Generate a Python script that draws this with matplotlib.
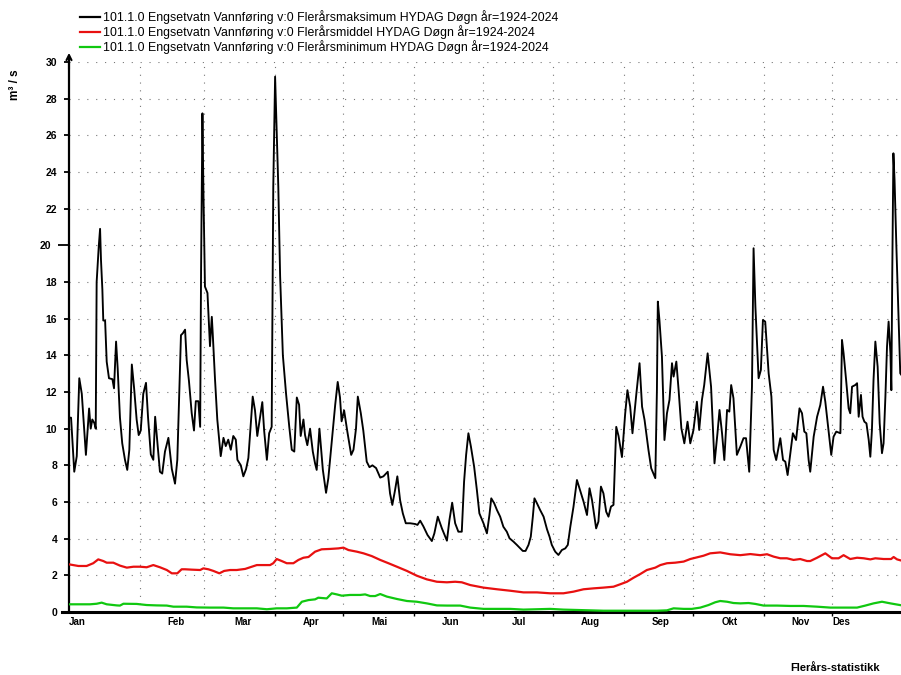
import matplotlib
matplotlib.use("Agg")
import matplotlib.pyplot as plt
from matplotlib.lines import Line2D

plt.rcParams["font.family"] = ["Liberation Sans", "DejaVu Sans"]

# --- data (day of year from 1 Jan, m3/s) ---------------------------------
max_days = [
    0, 0.9, 2.3, 3.4, 4.5, 5.6, 7.4, 8.8, 9.5, 10.2, 11.1, 11.7, 12.1, 13.0,
    13.6, 14.0, 14.6, 15.0, 15.8, 16.5, 17.5, 19.0, 19.7, 20.6, 21.3, 22.3,
    23.3, 24.5, 25.5, 26.4, 27.5, 28.5, 29.6, 30.5, 31.4, 32.5, 33.7, 34.6,
    35.8, 36.9, 37.7, 38.7, 39.8, 40.8, 42.0, 43.5, 45.0, 46.4, 47.4, 49.0,
    49.8, 50.8, 51.5, 52.5, 53.7, 54.7, 55.5, 56.6, 57.4, 57.8, 58.4, 58.8,
    59.5, 60.6, 61.7, 62.5, 62.9, 63.9, 64.9, 66.4, 67.6, 68.6, 69.7, 70.8,
    71.9, 73.0, 73.7, 75.2, 76.3, 77.5, 78.5, 79.6, 80.4, 81.4, 82.4, 83.6,
    84.6, 85.4, 86.6, 87.6, 88.7, 89.4, 90.2, 90.9, 91.6, 92.4, 93.6, 95.0,
    96.4, 97.5, 98.6, 99.7, 100.7, 101.4, 102.6, 103.3, 104.3, 105.5, 106.7,
    107.7, 108.4, 109.6, 111.1, 112.5, 113.5, 115.0, 116.5, 117.6, 118.6,
    119.3, 120.4, 121.8, 123.5, 124.5, 125.6, 126.4, 127.7, 128.8, 130.3,
    131.5, 132.8, 134.4, 136.2, 137.6, 139.5, 140.5, 141.5, 142.7, 143.7,
    144.9, 146.1, 147.4, 149.3, 151.5, 152.5, 153.7, 155.1, 156.9, 158.8,
    159.9, 161.4, 163.2, 165.4, 166.5, 167.7, 169.0, 170.4, 171.9, 172.9,
    173.8, 174.8, 175.9, 177.3, 178.5, 179.6, 181.4, 182.9, 184.0, 184.8,
    186.1, 187.3, 188.7, 190.1, 191.6, 192.8, 194.5, 196.0, 197.5, 198.6,
    199.8, 201.1, 202.1, 203.0, 203.7, 204.8, 206.2, 207.7, 209.2, 210.3,
    211.3, 212.8, 214.2, 215.7, 217.2, 218.3, 219.4, 220.8, 222.3, 223.4,
    225.2, 226.7, 227.8, 228.9, 230.7, 231.7, 232.8, 233.9, 235.1, 236.1,
    237.2, 238.3, 239.5, 240.5, 242.0, 243.4, 244.4, 245.6, 246.6, 248.3,
    249.7, 250.8, 251.9, 253.6, 254.8, 256.6, 257.3, 257.7, 258.4, 259.5,
    260.6, 261.7, 262.8, 263.9, 264.6, 265.8, 266.8, 268.0, 269.3, 270.7,
    271.9, 273.3, 274.8, 275.8, 277.0, 278.0, 279.5, 281.0, 282.5, 283.8,
    284.7, 285.8, 286.8, 288.0, 289.0, 289.8, 290.8, 292.3, 293.8, 295.2,
    296.3, 297.7, 298.9, 299.6, 300.4, 301.8, 302.8, 303.7, 304.7, 306.2,
    307.4, 308.4, 309.5, 311.3, 312.5, 313.5, 314.5, 315.7, 316.8, 318.2,
    319.7, 320.8, 321.8, 322.7, 323.7, 324.4, 325.9, 327.4, 328.8, 330.0,
    331.0, 332.4, 333.6, 334.6, 335.8, 337.6, 338.3, 339.0, 340.1, 341.2,
    341.9, 342.7, 344.1, 344.9, 345.6, 346.6, 347.3, 348.1, 349.0, 350.0,
    350.7, 351.4, 352.1, 352.9, 353.9, 354.8, 355.8, 356.5, 357.3, 358.0,
    358.7, 359.5, 359.9, 360.3, 360.8, 361.3, 362.1, 363.1, 363.8, 365.0,
]
max_vals = [
    10.6, 10.6, 7.65, 8.5, 12.75, 11.9, 8.57, 11.1, 10.0, 10.5, 10.3, 10.0, 18.0, 19.9,
    20.9, 19.2, 17.6, 15.9, 15.9, 13.65, 12.75, 12.7, 12.2, 14.75, 13.3, 10.6,
    9.2, 8.3, 7.75, 8.85, 13.5, 12.2, 10.5, 9.65, 9.9, 11.9, 12.5, 10.6,
    8.6, 8.3, 10.65, 9.2, 7.65, 7.55, 8.75, 9.5, 7.8, 7.0, 8.3, 15.1,
    15.2, 15.4, 13.75, 12.6, 10.85, 9.9, 11.5, 11.5, 10.1, 18.65, 27.2, 23.2,
    17.75, 17.4, 14.5, 16.1, 15.2, 12.7, 10.5, 8.5, 9.5, 9.05, 9.4, 8.85,
    9.6, 9.4, 8.3, 8.0, 7.4, 7.8, 8.4, 10.3, 11.75, 11.0, 9.6, 10.6,
    11.45, 9.9, 8.3, 9.75, 10.1, 23.2, 29.2, 26.1, 23.2, 18.3, 14.0, 11.9,
    10.1, 8.85, 8.75, 11.7, 11.3, 9.6, 10.5, 9.65, 9.1, 10.0, 8.75,
    8.1, 7.75, 10.0, 7.75, 6.5, 7.3, 9.3, 11.3, 12.55, 11.7,
    10.4, 11.0, 9.85, 8.57, 8.85, 10.0, 11.75, 10.85, 9.9, 8.2,
    7.9, 8.0, 7.85, 7.33, 7.4, 7.65, 6.47, 5.84, 6.65, 7.4,
    6.1, 5.38, 4.84, 4.84, 4.8, 4.75, 4.98, 4.67, 4.2, 3.87,
    4.29, 5.2, 4.56, 3.89, 5.02, 5.96, 4.84, 4.38, 4.38, 7.1,
    8.57, 9.75, 9.02, 7.93, 6.66, 5.38, 4.84, 4.29, 5.29, 6.2,
    5.93, 5.56, 5.2, 4.65, 4.38, 4.02, 3.84, 3.66, 3.47, 3.33,
    3.33, 3.66, 4.11, 5.2, 6.2, 5.93, 5.56, 5.2, 4.51, 4.11,
    3.66, 3.29, 3.11, 3.38, 3.47, 3.66, 4.65, 5.75, 7.2, 6.75,
    6.02, 5.29, 6.75, 6.1, 4.56, 4.93, 6.84, 6.47, 5.47, 5.2,
    5.75, 5.84, 10.1, 9.6, 8.45, 10.8, 12.1, 11.2, 9.75, 11.9,
    13.57, 11.2, 10.47, 8.84, 7.84, 7.3, 12.1, 16.93, 15.93, 13.93,
    9.38, 10.84, 11.57, 13.57, 12.84, 13.66, 12.1, 10.02, 9.2, 10.38,
    9.2, 9.93, 11.47, 9.93, 11.57, 12.38, 14.11, 12.29, 8.11, 9.75,
    11.02, 9.75, 8.29, 11.02, 10.93, 12.38, 11.66, 8.57, 9.02, 9.48,
    9.48, 7.65, 12.29, 19.84, 16.66, 12.75, 13.2, 15.93, 15.84, 13.02,
    11.75, 8.84, 8.29, 9.48, 8.29, 8.2, 7.47, 8.66, 9.75, 9.38,
    11.11, 10.84, 9.84, 9.75, 8.29, 7.65, 9.56, 10.65, 11.29, 12.29,
    11.47, 9.93, 8.57, 9.56, 9.84, 9.75, 14.84, 14.11, 12.66, 11.11,
    10.84, 12.29, 12.38, 12.48, 10.65, 11.84, 10.65, 10.38, 10.29, 9.38,
    8.47, 9.93, 12.66, 14.75, 13.38, 10.29, 8.66, 9.2, 11.75, 14.47,
    15.84, 14.11, 12.1, 18.48, 25.02, 23.57, 19.93, 15.75, 13.02, 12.8,
]

mean_days = [
    0, 4.1, 7.7, 10.6, 12.8, 15.0, 16.5, 19.4, 22.3, 25.3, 28.2, 31.1, 34.0,
    36.9, 39.8, 42.8, 45.0, 47.4, 49.3, 50.8, 53.7, 57.4, 58.8, 61.0, 63.2,
    65.8, 67.9, 70.5, 73.4, 77.1, 80.0, 82.2, 85.1, 88.0, 89.4, 90.9, 93.1,
    95.3, 98.2, 100.4, 102.6, 104.8, 107.7, 110.6, 114.3, 117.9, 120.1,
    122.3, 126.0, 128.9, 132.5, 136.2, 139.8, 143.5, 147.9, 152.2, 156.6,
    161.0, 165.4, 169.0, 171.9, 175.6, 181.4, 187.3, 193.1, 198.9, 204.8,
    210.6, 216.4, 220.8, 225.2, 229.6, 233.9, 238.3, 241.2, 244.2, 247.1,
    250.0, 252.9, 256.6, 258.8, 261.7, 265.3, 269.0, 271.9, 274.8, 277.7,
    280.6, 285.0, 289.4, 293.8, 298.2, 302.5, 305.5, 308.4, 311.3, 314.2,
    317.1, 320.0, 323.0, 324.4, 327.4, 331.0, 333.9, 336.8, 339.0, 341.9,
    344.9, 347.8, 350.7, 352.9, 356.5, 359.8, 360.9, 362.4, 365.0,
]
mean_vals = [
    2.6, 2.51, 2.51, 2.66, 2.87, 2.78, 2.69, 2.69, 2.53, 2.42, 2.47, 2.47, 2.44,
    2.56, 2.44, 2.29, 2.11, 2.11, 2.33, 2.33, 2.31, 2.29, 2.38, 2.33, 2.24,
    2.11, 2.24, 2.29, 2.29, 2.35, 2.47, 2.56, 2.56, 2.56, 2.66, 2.89, 2.78,
    2.66, 2.66, 2.84, 2.96, 3.0, 3.29, 3.42, 3.44, 3.47, 3.51,
    3.38, 3.29, 3.2, 3.05, 2.84, 2.66, 2.47, 2.24, 1.98, 1.78,
    1.65, 1.62, 1.65, 1.62, 1.47, 1.33, 1.24, 1.16, 1.07, 1.07,
    1.02, 1.02, 1.11, 1.24, 1.29, 1.33, 1.38, 1.51, 1.65, 1.87,
    2.07, 2.29, 2.42, 2.56, 2.66, 2.69, 2.75, 2.89, 2.98, 3.07,
    3.2, 3.25, 3.15, 3.1, 3.16, 3.1, 3.15, 3.02, 2.93, 2.93,
    2.84, 2.89, 2.78, 2.78, 2.96, 3.2, 2.93, 2.93, 3.1, 2.89,
    2.96, 2.93, 2.87, 2.93, 2.89, 2.89, 3.0, 2.87, 2.78,
]

min_days = [
    0, 4.8, 9.2, 12.1, 14.3, 16.5, 20.9, 22.3, 23.8, 29.6, 34.0, 38.4, 42.8,
    45.7, 51.5, 55.9, 61.7, 67.6, 71.9, 77.8, 82.2, 86.6, 90.9, 95.3, 99.7,
    101.9, 104.8, 107.7, 109.1, 112.8, 115.0, 117.2, 119.4, 123.0, 127.4,
    129.6, 131.8, 134.0, 136.2, 139.1, 143.5, 147.9, 152.2, 156.6, 161.0,
    165.4, 171.2, 175.6, 181.4, 187.3, 193.1, 198.9, 204.8, 210.6, 216.4,
    222.3, 228.1, 233.9, 239.8, 245.6, 251.4, 257.3, 261.7, 264.6, 269.0,
    272.6, 276.3, 279.9, 282.8, 285.0, 288.0, 290.8, 293.8, 297.4, 300.4,
    304.0, 309.9, 315.7, 321.5, 327.4, 333.2, 339.0, 344.9, 348.5, 352.1,
    355.8, 359.5, 365.0,
]
min_vals = [
    0.42, 0.42, 0.42, 0.45, 0.51, 0.42, 0.36, 0.35, 0.45, 0.44, 0.38, 0.36, 0.35,
    0.29, 0.29, 0.25, 0.24, 0.24, 0.2, 0.2, 0.2, 0.15, 0.2, 0.2, 0.24,
    0.56, 0.65, 0.69, 0.78, 0.74, 1.02, 0.96, 0.89, 0.93, 0.93,
    0.96, 0.87, 0.87, 0.98, 0.84, 0.71, 0.6, 0.56, 0.47, 0.36,
    0.35, 0.35, 0.24, 0.17, 0.17, 0.17, 0.13, 0.15, 0.17, 0.13,
    0.11, 0.09, 0.07, 0.07, 0.07, 0.07, 0.07, 0.09, 0.2, 0.17,
    0.17, 0.24, 0.38, 0.53, 0.6, 0.56, 0.49, 0.47, 0.49, 0.44,
    0.35, 0.35, 0.33, 0.33, 0.29, 0.24, 0.24, 0.24, 0.35, 0.47,
    0.56, 0.47, 0.35,
]

month_starts = [31, 59, 90, 120, 151, 181, 212, 243, 273, 304, 334]
month_names = ["Jan", "Feb", "Mar", "Apr", "Mai", "Jun",
               "Jul", "Aug", "Sep", "Okt", "Nov", "Des"]
month_label_days = [0, 47, 76, 106, 136, 167, 197, 228, 259, 289, 320, 334]

series_labels = [
    "101.1.0 Engsetvatn Vannføring v:0 Flerårsmaksimum HYDAG Døgn år=1924-2024",
    "101.1.0 Engsetvatn Vannføring v:0 Flerårsmiddel HYDAG Døgn år=1924-2024",
    "101.1.0 Engsetvatn Vannføring v:0 Flerårsminimum HYDAG Døgn år=1924-2024",
]
colors = ["#000000", "#e81010", "#10c810"]

W, H = 901, 675
fig = plt.figure(figsize=(W / 100, H / 100), dpi=100)
fig.patch.set_facecolor("white")
ax = fig.add_axes([69 / W, 63 / H, 834 / W, 550 / H])

ax.set_xlim(0, 365)
ax.set_ylim(0, 30)

# dotted grid
for y in range(2, 31, 2):
    ax.axhline(y, color="#777777", lw=0.8, ls=(0, (1, 7)), zorder=0)
for d in month_starts:
    ax.axvline(d, color="#777777", lw=0.8, ls=(0, (1, 6)), zorder=0)

ax.plot(max_days, max_vals, color=colors[0], lw=1.35, zorder=3)
ax.plot(mean_days, mean_vals, color=colors[1], lw=1.6, zorder=3)
ax.plot(min_days, min_vals, color=colors[2], lw=1.6, zorder=3)

for side in ("top", "right"):
    ax.spines[side].set_visible(False)
ax.spines["left"].set_linewidth(1.6)
ax.spines["bottom"].set_linewidth(2.2)
ax.spines["bottom"].set_bounds(-3, 365)

# y axis
ax.set_yticks(range(0, 31, 2))
ax.set_yticklabels([str(v) for v in range(0, 31, 2)],
                   fontsize=7.5, fontweight="bold")
ax.tick_params(axis="y", direction="out", length=3.5, width=1.3, pad=5)
# the 20 tick is drawn longer, with its label pushed further left
t20 = ax.yaxis.get_major_ticks()[10]
t20.set_pad(9.5)
t20.tick1line.set_markersize(8)
ax.annotate("", xy=(0, 30.5), xytext=(0, 29.6),
            arrowprops=dict(arrowstyle="->", lw=1.5, color="black",
                            shrinkA=0, shrinkB=0, mutation_scale=9),
            annotation_clip=False)

# x axis: ticks at month starts, labels placed separately
ax.set_xticks(month_starts[1:])
ax.set_xticklabels([])
ax.tick_params(axis="x", direction="out", length=3, width=1)
for name, d in zip(month_names, month_label_days):
    ha = "left" if name in ("Jan", "Des") else "center"
    ax.text(d, -0.25, name, ha=ha, va="top", fontsize=7, fontweight="bold",
            transform=ax.transData)

fig.text(15 / W, 1 - 85 / H, "m³ / s", rotation=90, ha="center", va="center",
         fontsize=8.5, fontweight="bold")

# legend
for i, (lab, col) in enumerate(zip(series_labels, colors)):
    y = 1 - (17 + 15 * i) / H
    fig.add_artist(Line2D([80 / W, 100 / W], [y, y], color=col, lw=1.6))
    fig.text(103 / W, y, lab, ha="left", va="center", fontsize=8.9)

fig.text(880 / W, 1 - 668 / H, "Flerårs-statistikk", ha="right", va="center",
         fontsize=8, fontweight="bold")

fig.savefig("out.png", dpi=100)
